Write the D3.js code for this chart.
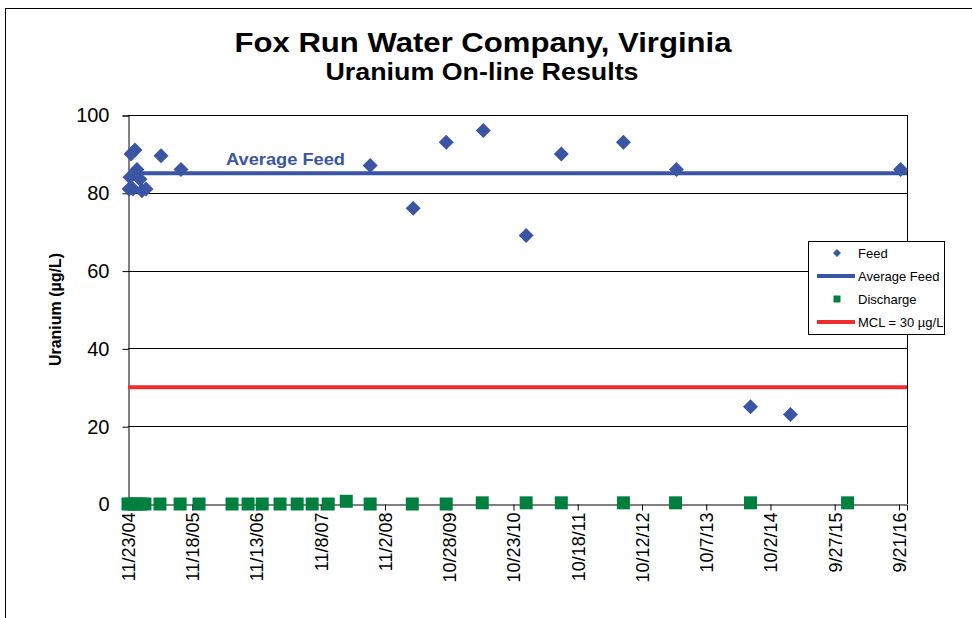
<!DOCTYPE html>
<html>
<head>
<meta charset="utf-8">
<script src="https://cdn.jsdelivr.net/npm/d3@7"></script>
<style>
  body { margin: 0; background: #fff; }
  svg { display: block; font-family: "Liberation Sans", Arial, sans-serif; }
</style>
</head>
<body>
<div class="visHolder"></div>
<script>
// data
var tickLabels = ["11/23/04", "11/18/05", "11/13/06", "11/8/07", "11/2/08", "10/28/09", "10/23/10",
  "10/18/11", "10/12/12", "10/7/13", "10/2/14", "9/27/15", "9/21/16"];
var yTicks = [0, 20, 40, 60, 80, 100];

var feedDates = ["2004-11-29", "2004-12-04", "2004-12-10", "2004-12-21", "2005-01-01", "2005-01-12",
  "2005-01-29", "2005-02-09", "2005-03-04", "2005-05-27", "2005-09-16", "2008-08-11", "2009-04-09",
  "2009-10-11", "2010-05-07", "2011-01-02", "2011-07-18", "2012-06-30", "2013-04-23", "2014-06-12",
  "2015-01-22", "2016-09-30"];
var feedValues = [81, 84, 90, 81, 91, 86, 83.5, 80.5, 81, 89.5, 86, 87, 76, 93, 96, 69, 90, 93, 86, 25, 23, 86];

var dischargeDates = ["2004-11-23", "2004-12-13", "2005-01-07", "2005-02-01", "2005-02-26", "2005-05-21",
  "2005-09-11", "2005-12-26", "2006-06-29", "2006-09-27", "2006-12-15", "2007-03-25", "2007-06-29",
  "2007-09-21", "2007-12-20", "2008-03-30", "2008-08-11", "2009-04-04", "2009-10-11", "2010-05-01",
  "2011-01-02", "2011-07-18", "2012-06-30", "2013-04-18", "2014-06-12", "2015-12-08"];
var dischargeValues = [0, 0, 0, 0, 0, 0, 0, 0, 0, 0, 0, 0, 0, 0, 0, 0.7, 0, 0, 0, 0.3, 0.3, 0.3, 0.3, 0.3, 0.3, 0.3];

var averageFeed = 85;
var mcl = 30;
var axisMin = "2004-11-23", axisMax = "2016-11-05";

var width = 972, height = 618;
var plotLeft = 128, plotRight = 907, plotTop = 115, plotBottom = 504;
var blue = "#3a55a4", green = "#00803f", red = "#ee2c2c";

var parseIso = d3.timeParse("%Y-%m-%d");
var parseTick = d3.timeParse("%m/%d/%y");

var svg = d3.select(".visHolder").append("svg").attr("width", width).attr("height", height);

// outer chart frame
svg.append("rect").attr("x", 5.5).attr("y", 8.5).attr("width", 1000).attr("height", 700)
  .attr("fill", "none").attr("stroke", "#000").attr("stroke-width", 1);

// titles are a bit narrow-and-tall in the original, so stretch them to its width
svg.append("text").attr("x", 483).attr("y", 52).attr("text-anchor", "middle")
  .attr("textLength", 497).attr("lengthAdjust", "spacingAndGlyphs")
  .style("font-weight", "bold").style("font-size", "28px").text("Fox Run Water Company, Virginia");
svg.append("text").attr("x", 482).attr("y", 80).attr("text-anchor", "middle")
  .attr("textLength", 313).attr("lengthAdjust", "spacingAndGlyphs")
  .style("font-weight", "bold").style("font-size", "23px").text("Uranium On-line Results");

var xScale = d3.scaleTime().domain([parseIso(axisMin), parseIso(axisMax)]).range([plotLeft, plotRight]);
var yScale = d3.scaleLinear().domain([0, 100]).range([plotBottom, plotTop]);

// grid lines
svg.append("g").selectAll("line").data(yTicks.filter(d => d > 0)).enter().append("line")
  .attr("x1", plotLeft).attr("x2", plotRight)
  .attr("y1", d => Math.round(yScale(d)) + 0.5).attr("y2", d => Math.round(yScale(d)) + 0.5)
  .attr("stroke", "#000").attr("stroke-width", 1);
svg.append("line").attr("x1", plotRight + 0.5).attr("x2", plotRight + 0.5)
  .attr("y1", plotTop).attr("y2", plotBottom).attr("stroke", "#000");

var yAxis = d3.axisLeft(yScale).tickValues(yTicks).tickSize(6).tickPadding(13);
var gy = svg.append("g").attr("transform", "translate(" + (plotLeft + 0.5) + ",0.5)").call(yAxis);
gy.selectAll("text").style("font-size", "20px").attr("fill", "#000");

var xAxis = d3.axisBottom(xScale).tickValues(tickLabels.map(parseTick)).tickSize(6)
  .tickFormat((d, i) => tickLabels[i]);
var gx = svg.append("g").attr("transform", "translate(0," + (plotBottom + 0.5) + ")").call(xAxis);
gx.selectAll("text").style("font-size", "18px").attr("fill", "#000")
  .attr("transform", "rotate(-90)").attr("text-anchor", "end")
  .attr("x", -8).attr("y", 0).attr("dy", "0.35em");
svg.selectAll(".domain").attr("stroke", "#000");

svg.append("text").attr("transform", "translate(61," + (plotTop + plotBottom) / 2 + ") rotate(-90)")
  .attr("text-anchor", "middle").style("font-weight", "bold").style("font-size", "16px")
  .text("Uranium (µg/L)");

// reference lines
svg.append("line").attr("x1", plotLeft).attr("x2", plotRight)
  .attr("y1", yScale(averageFeed)).attr("y2", yScale(averageFeed))
  .attr("stroke", blue).attr("stroke-width", 4);
svg.append("line").attr("x1", plotLeft).attr("x2", plotRight)
  .attr("y1", yScale(mcl)).attr("y2", yScale(mcl))
  .attr("stroke", red).attr("stroke-width", 4);
svg.append("text").attr("x", 226).attr("y", yScale(averageFeed) - 8)
  .attr("textLength", 119).attr("lengthAdjust", "spacingAndGlyphs")
  .style("font-weight", "bold").style("font-size", "17px").attr("fill", blue).text("Average Feed");

var diamond = d3.symbol().type(d3.symbolSquare).size(112);
var square = d3.symbol().type(d3.symbolSquare).size(169);

svg.append("g").selectAll("path").data(feedDates).enter().append("path")
  .attr("d", diamond)
  .attr("transform", (d, i) => "translate(" + xScale(parseIso(d)) + "," + yScale(feedValues[i]) + ") rotate(45)")
  .attr("fill", blue);

svg.append("g").selectAll("path").data(dischargeDates).enter().append("path")
  .attr("d", square)
  .attr("transform", (d, i) => "translate(" + xScale(parseIso(d)) + "," + yScale(dischargeValues[i]) + ")")
  .attr("fill", green);

// legend
var legend = svg.append("g").attr("transform", "translate(808,241)");
legend.append("rect").attr("x", 0.5).attr("y", 0.5).attr("width", 136).attr("height", 93)
  .attr("fill", "#fff").attr("stroke", "#000");
var legendItems = ["Feed", "Average Feed", "Discharge", "MCL = 30 µg/L"];
var row = legend.selectAll(".legend-label").data(legendItems).enter().append("g")
  .attr("class", "legend-label")
  .attr("transform", (d, i) => "translate(0," + (12 + i * 23) + ")");
row.each(function (d, i) {
  var g = d3.select(this);
  if (i === 0) {
    g.append("path").attr("d", d3.symbol().type(d3.symbolSquare).size(32))
      .attr("transform", "translate(29,0) rotate(45)").attr("fill", blue);
  } else if (i === 2) {
    g.append("path").attr("d", d3.symbol().type(d3.symbolSquare).size(49))
      .attr("transform", "translate(29,0)").attr("fill", green);
  } else {
    g.append("line").attr("x1", 9).attr("x2", 47).attr("y1", 0).attr("y2", 0)
      .attr("stroke", i === 1 ? blue : red).attr("stroke-width", 4);
  }
  g.append("text").attr("x", 50).attr("y", 0).attr("dy", "0.35em")
    .style("font-size", "13px").text(d);
});
</script>
</body>
</html>
